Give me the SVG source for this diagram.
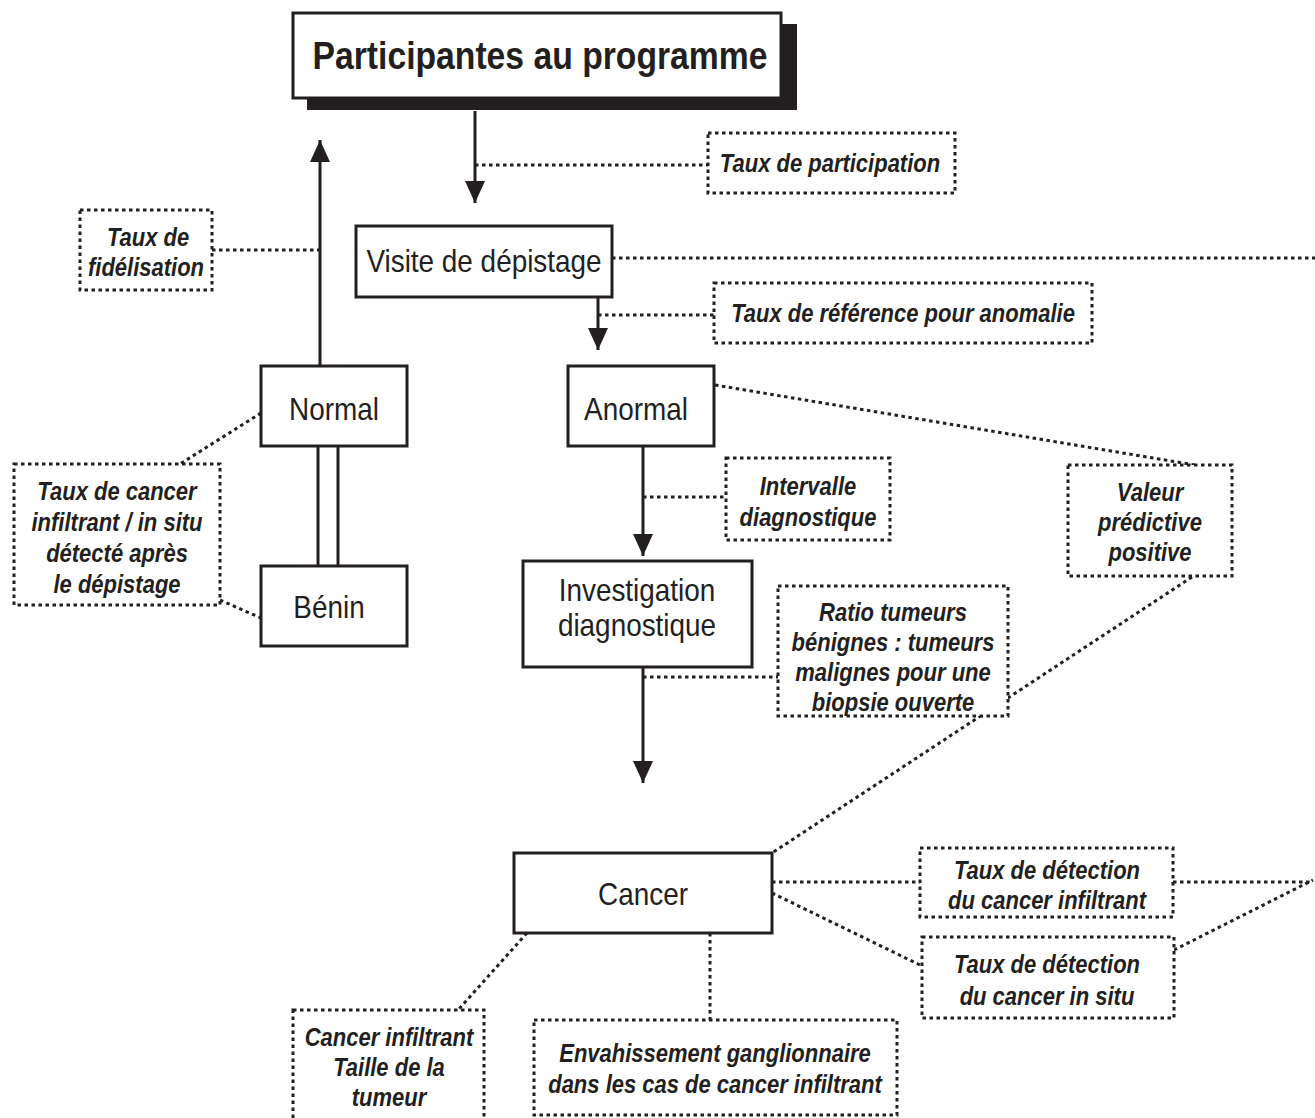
<svg xmlns="http://www.w3.org/2000/svg" width="1315" height="1118" viewBox="0 0 1315 1118">
<style>
.node{fill:#fff;stroke:#231f20;stroke-width:3}
.lbl{fill:#fff;stroke:#231f20;stroke-width:3;stroke-dasharray:3.5 3.5}
.dot{fill:none;stroke:#231f20;stroke-width:3;stroke-dasharray:3.5 3.5}
.arr{fill:none;stroke:#231f20;stroke-width:3}
.t{font-family:"Liberation Sans",Arial,sans-serif;font-size:31px;fill:#231f20;text-anchor:middle}
.i{font-family:"Liberation Sans",Arial,sans-serif;font-size:25px;font-weight:bold;font-style:italic;fill:#231f20;text-anchor:middle}
</style>
<defs>
<marker id="ah" viewBox="0 0 22 20" refX="22" refY="10" markerWidth="22" markerHeight="20" markerUnits="userSpaceOnUse" orient="auto">
<path d="M0,0 L22,10 L0,20 z" fill="#231f20"/>
</marker>
</defs>
<rect width="1315" height="1118" fill="#fff"/>
<g id="connectors">
<line class="arr" x1="475" y1="111" x2="475" y2="203" marker-end="url(#ah)"/>
<line class="arr" x1="598" y1="297" x2="598" y2="350" marker-end="url(#ah)"/>
<line class="arr" x1="643" y1="447" x2="643" y2="556" marker-end="url(#ah)"/>
<line class="arr" x1="643" y1="667" x2="643" y2="783" marker-end="url(#ah)"/>
<line class="arr" x1="320" y1="366" x2="320" y2="140" marker-end="url(#ah)"/>
<line class="arr" x1="318" y1="446" x2="318" y2="566"/>
<line class="arr" x1="338" y1="446" x2="338" y2="566"/>
<line class="dot" x1="475" y1="165" x2="708" y2="165"/>
<line class="dot" x1="212" y1="250" x2="320" y2="250"/>
<line class="dot" x1="612" y1="258" x2="1315" y2="258"/>
<line class="dot" x1="598" y1="315" x2="714" y2="315"/>
<line class="dot" x1="261" y1="413" x2="180" y2="464"/>
<line class="dot" x1="220" y1="600" x2="261" y2="618"/>
<line class="dot" x1="643" y1="497" x2="726" y2="497"/>
<line class="dot" x1="715" y1="385" x2="1195" y2="465"/>
<line class="dot" x1="1192" y1="577" x2="772" y2="853"/>
<line class="dot" x1="643" y1="677" x2="778" y2="677"/>
<line class="dot" x1="772" y1="882" x2="920" y2="882"/>
<line class="dot" x1="1173" y1="882" x2="1313" y2="882"/>
<line class="dot" x1="772" y1="893" x2="922" y2="966"/>
<line class="dot" x1="1174" y1="950" x2="1313" y2="880"/>
<line class="dot" x1="527" y1="933" x2="458" y2="1010"/>
<line class="dot" x1="710" y1="933" x2="710" y2="1020"/>
</g>
<g id="participantes">
<rect x="307" y="24" width="490" height="86" fill="#231f20"/>
<rect class="node" x="293" y="13" width="488" height="85"/>
<text x="540" y="69" font-family="Liberation Sans,Arial,sans-serif" font-size="38" font-weight="bold" fill="#231f20" text-anchor="middle" textLength="455" lengthAdjust="spacingAndGlyphs">Participantes au programme</text>
</g>
<g id="visite">
<rect class="node" x="356" y="226" width="256" height="71"/>
<text class="t" transform="translate(484 272) scale(.9 1)">Visite de dépistage</text>
</g>
<g id="normal">
<rect class="node" x="261" y="366" width="146" height="80"/>
<text class="t" transform="translate(334 420) scale(.9 1)">Normal</text>
</g>
<g id="benin">
<rect class="node" x="261" y="566" width="146" height="80"/>
<text class="t" transform="translate(329 618) scale(.9 1)">Bénin</text>
</g>
<g id="anormal">
<rect class="node" x="568" y="366" width="146" height="80"/>
<text class="t" transform="translate(636 420) scale(.9 1)">Anormal</text>
</g>
<g id="investigation">
<rect class="node" x="523" y="561" width="229" height="106"/>
<text class="t" transform="translate(637 601) scale(.9 1)">Investigation</text>
<text class="t" transform="translate(637 636) scale(.9 1)">diagnostique</text>
</g>
<g id="cancer">
<rect class="node" x="514" y="853" width="258" height="80"/>
<text class="t" transform="translate(643 905) scale(.9 1)">Cancer</text>
</g>
<g id="lbl-participation">
<rect class="lbl" x="708" y="133" width="247" height="60"/>
<text class="i" transform="translate(830 172) scale(.88 1)">Taux de participation</text>
</g>
<g id="lbl-fidelisation">
<rect class="lbl" x="80" y="210" width="132" height="80"/>
<text class="i" transform="translate(148 246) scale(.88 1)">Taux de</text>
<text class="i" transform="translate(146 276) scale(.88 1)">fidélisation</text>
</g>
<g id="lbl-reference">
<rect class="lbl" x="714" y="283" width="378" height="60"/>
<text class="i" transform="translate(903 322) scale(.88 1)">Taux de référence pour anomalie</text>
</g>
<g id="lbl-cancer-apres">
<rect class="lbl" x="14" y="464" width="206" height="141"/>
<text class="i" transform="translate(117 500) scale(.88 1)">Taux de cancer</text>
<text class="i" transform="translate(117 531) scale(.88 1)">infiltrant / in situ</text>
<text class="i" transform="translate(117 562) scale(.88 1)">détecté après</text>
<text class="i" transform="translate(117 593) scale(.88 1)">le dépistage</text>
</g>
<g id="lbl-intervalle">
<rect class="lbl" x="726" y="458" width="164" height="82"/>
<text class="i" transform="translate(808 495) scale(.88 1)">Intervalle</text>
<text class="i" transform="translate(808 526) scale(.88 1)">diagnostique</text>
</g>
<g id="lbl-vpp">
<rect class="lbl" x="1068" y="465" width="164" height="111"/>
<text class="i" transform="translate(1150 501) scale(.88 1)">Valeur</text>
<text class="i" transform="translate(1150 531) scale(.88 1)">prédictive</text>
<text class="i" transform="translate(1150 561) scale(.88 1)">positive</text>
</g>
<g id="lbl-ratio">
<rect class="lbl" x="778" y="586" width="230" height="130"/>
<text class="i" transform="translate(893 621) scale(.88 1)">Ratio tumeurs</text>
<text class="i" transform="translate(893 651) scale(.88 1)">bénignes : tumeurs</text>
<text class="i" transform="translate(893 681) scale(.88 1)">malignes pour une</text>
<text class="i" transform="translate(893 711) scale(.88 1)">biopsie ouverte</text>
</g>
<g id="lbl-infiltrant">
<rect class="lbl" x="920" y="848" width="253" height="69"/>
<text class="i" transform="translate(1047 879) scale(.88 1)">Taux de détection</text>
<text class="i" transform="translate(1047 909) scale(.88 1)">du cancer infiltrant</text>
</g>
<g id="lbl-insitu">
<rect class="lbl" x="922" y="937" width="252" height="81"/>
<text class="i" transform="translate(1047 973) scale(.88 1)">Taux de détection</text>
<text class="i" transform="translate(1047 1005) scale(.88 1)">du cancer in situ</text>
</g>
<g id="lbl-taille">
<rect class="lbl" x="293" y="1010" width="191" height="115"/>
<text class="i" transform="translate(389 1046) scale(.88 1)">Cancer infiltrant</text>
<text class="i" transform="translate(389 1076) scale(.88 1)">Taille de la</text>
<text class="i" transform="translate(389 1106) scale(.88 1)">tumeur</text>
</g>
<g id="lbl-ganglion">
<rect class="lbl" x="534" y="1020" width="363" height="95"/>
<text class="i" transform="translate(715 1062) scale(.88 1)">Envahissement ganglionnaire</text>
<text class="i" transform="translate(715 1093) scale(.88 1)">dans les cas de cancer infiltrant</text>
</g>
</svg>
